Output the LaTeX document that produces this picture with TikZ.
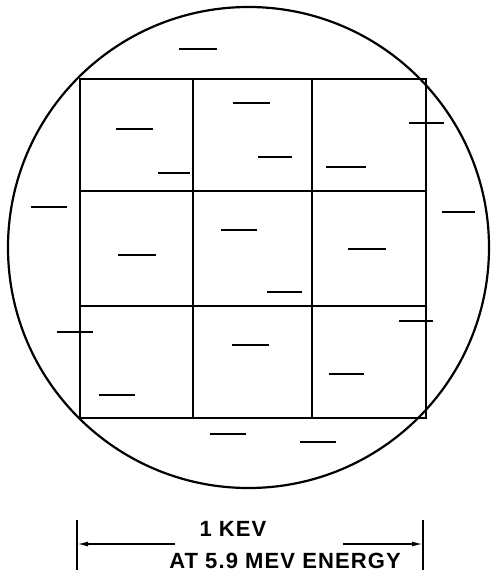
\documentclass[tikz,border=0pt]{standalone}
\usepackage{fontspec}
\setmainfont{Liberation Sans}
\usetikzlibrary{arrows.meta}
\tikzset{
  frame/.style={line width=2.2pt},
  track/.style={line width=2pt},
  scalearrow/.style={line width=1.6pt,-{Latex[length=11pt,width=5pt]}},
  label/.style={font=\fontsize{22}{22}\selectfont\bfseries\addfontfeatures{LetterSpace=5},inner sep=0pt}
}

\begin{document}
\begin{tikzpicture}[x=1pt,y=-1pt]
  \useasboundingbox (0,0) rectangle (491,576);
  % detector outline and pixel grid
  \draw[frame] (248.5,247.5) circle[radius=240.5pt];
  \draw[frame] (80,79) rectangle (426,418);
  \foreach \xc in {193,312} \draw[frame] (\xc,79) -- (\xc,418);
  \foreach \yc in {191,306} \draw[frame] (80,\yc) -- (426,\yc);
  % tracks
  \foreach \xa/\xb/\yc in {179/217/49, 233/270/103, 116/153/129, 409/444/123,
      258/292/157, 158/190/173, 326/366/167, 31/67/207, 442/475/212,
      221/257/230, 348/386/249, 118/156/255, 267/302/292, 57/93/332,
      399/433/321, 232/269/345, 329/364/374, 99/135/395, 210/246/434,
      300/336/442}
    \draw[track] (\xa,\yc) -- (\xb,\yc);
  % scale bar
  \coordinate (lefttop) at (77,520);
  \coordinate (leftbot) at (77,570);
  \coordinate (righttop) at (423,520);
  \coordinate (rightbot) at (423,570);
  \draw[frame] (lefttop) -- (leftbot);
  \draw[frame] (righttop) -- (rightbot);
  \node[label] (kev) at (233,529) {1 KEV};
  \node[label] (energy) at (285,561) {AT 5.9 MEV ENERGY};
  \coordinate (leftstart) at (175,544);
  \coordinate (rightstart) at (343,544);
  \draw[scalearrow] (leftstart) -- (leftstart -| lefttop);
  \draw[scalearrow] (rightstart) -- (rightstart -| righttop);
\end{tikzpicture}
\end{document}
